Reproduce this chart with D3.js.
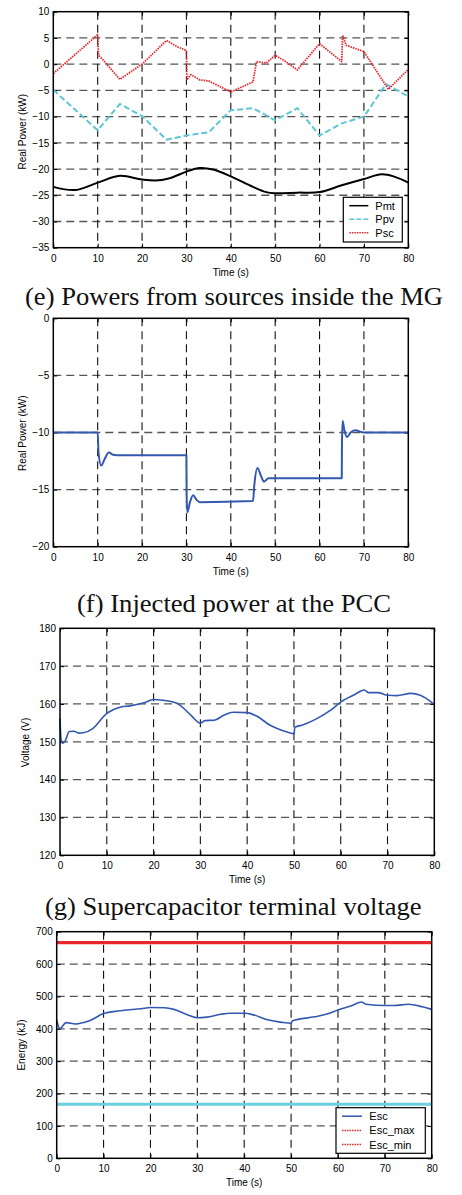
<!DOCTYPE html>
<html><head><meta charset="utf-8">
<script src="https://cdn.jsdelivr.net/npm/d3@7"></script>
<style>body{margin:0;background:#fff}svg{display:block}</style>
</head><body>
<svg id="c" width="462" height="1195"></svg>
<script>
// ---------- DATA ----------
const xTicks = [0,10,20,30,40,50,60,70,80];

// (e) powers
const pmtT = [0,5,10,15,20,23,26,30,33,36,40,45,48,50,55,60,65,70,74,77,80];
const pmtV = [-23.4,-24.0,-22.6,-21.3,-22.0,-22.2,-21.8,-20.5,-19.8,-20.1,-21.4,-23.4,-24.4,-24.6,-24.5,-24.4,-23.1,-21.9,-21.0,-21.5,-22.6];
const ppvT = [0,10,15,20,25.5,30,35,40,45,50,55,60,65,70,75,80];
const ppvV = [-4.9,-12.6,-7.6,-9.9,-14.4,-13.6,-13.0,-8.8,-8.4,-10.7,-8.4,-13.6,-11.3,-10.0,-3.8,-6.2];
const pscT = [0,10,10.2,11,15,20,25.5,28,30,30.1,31,33,35,40,45,45.8,48,50,52,55,60,65,65.2,66,70,75.5,80];
const pscV = [-1.8,5.6,1.7,1.0,-2.9,0.0,4.5,3.3,2.6,-3.0,-2.0,-3.0,-3.2,-5.3,-3.4,0.5,0.2,1.7,0.7,-1.1,3.9,0.5,5.5,3.6,2.4,-4.8,-1.0];
const yTicksE = [10,5,0,-5,-10,-15,-20,-25,-30,-35];

// (f) PCC
const pccT = [0,10,10.2,10.8,11.6,12.5,13.5,15,30,30.05,30.2,30.8,31.5,32.3,33,45,45.3,46,46.8,47.5,48.5,50,65,65.05,65.2,65.6,66.2,67,68,70,80];
const pccV = [-10,-10,-11.8,-12.9,-12.3,-11.75,-11.95,-12,-12,-15.5,-17.0,-16.1,-15.5,-15.9,-16.1,-16,-14.6,-13.1,-13.8,-14.3,-14.0,-14,-14,-11,-9.0,-9.8,-10.4,-10.0,-9.8,-10,-10];
const yTicksF = [0,-5,-10,-15,-20];

// (g) voltage
const vT = [0,0.2,0.6,1,2,3,4,5,7,10,13,15,18,20,22,25,28,30,31,33,35,37,40,42,45,48,50,50.2,52,55,58,60,63,65,66,68,70,72,75,77,80];
const vV = [156.2,151,149.6,150,152.7,152.8,152.3,152.4,153.5,157.5,159.2,159.5,160.3,161.2,161,160.2,157,154.9,155.6,155.7,157,157.8,157.7,156.8,154.3,152.8,152.1,153.8,154.5,156.2,158.5,160.5,162.5,163.7,163,163,162.3,162.2,162.8,162.3,159.9];
const yTicksG = [180,170,160,150,140,130,120];

// (h) energy
const eT = [0,0.3,0.7,2,4,5,7,10,13,15,18,20,23,25,28,30,32,35,37,40,42,45,48,50,50.3,55,58,60,63,65,66,70,72,75,78,80];
const eV = [428,410,401,419,415,417,425,447,455,458,462,466,465,460,443,434,436,445,448,448,443,428,420,417,425,437,447,458,472,483,476,472,472,476,468,460];
const escMax = 666;
const escMin = 167;
const yTicksH = [700,600,500,400,300,200,100,0];

const captions = ["(e) Powers from sources inside the MG","(f) Injected power at the PCC","(g) Supercapacitor terminal voltage"];

// ---------- DRAW ----------
const svg = d3.select("#c");
const SANS = "'Liberation Sans', Arial, sans-serif";
const SERIF = "'Liberation Serif', 'Times New Roman', serif";

function panel(cfg){
  const x = d3.scaleLinear().domain([0,80]).range([cfg.l,cfg.r]);
  const y = d3.scaleLinear().domain(cfg.yd).range([cfg.b,cfg.t]);
  const g = svg.append("g");
  // grid
  g.append("g").selectAll("line").data(cfg.yt.slice(1,-1)).join("line")
    .attr("y1",d=>y(d)).attr("y2",d=>y(d)).attr("x1",cfg.l).attr("x2",cfg.r)
    .attr("stroke","#555").attr("stroke-width",1.3).attr("stroke-dasharray","8,5");
  g.append("g").selectAll("line").data(xTicks.slice(1,-1)).join("line")
    .attr("x1",d=>x(d)).attr("x2",d=>x(d)).attr("y1",cfg.t).attr("y2",cfg.b)
    .attr("stroke","#111").attr("stroke-width",1.1).attr("stroke-dasharray","8,5");
  // axes with inward ticks
  const ax = d3.axisBottom(x).tickValues(xTicks).tickSize(-4).tickPadding(7).tickFormat(d3.format("d"));
  const ay = d3.axisLeft(y).tickValues(cfg.yt).tickSize(-4).tickPadding(4).tickFormat(d3.format("d"));
  const gx = g.append("g").attr("transform",`translate(0,${cfg.b})`).call(ax);
  const gy = g.append("g").attr("transform",`translate(${cfg.l},0)`).call(ay);
  const gx2 = g.append("g").attr("transform",`translate(0,${cfg.t})`).call(d3.axisTop(x).tickValues(xTicks).tickSize(-4).tickFormat(""));
  const gy2 = g.append("g").attr("transform",`translate(${cfg.r},0)`).call(d3.axisRight(y).tickValues(cfg.yt).tickSize(-4).tickFormat(""));
  [gx,gy,gx2,gy2].forEach(a=>{a.select(".domain").remove();a.selectAll("line").attr("stroke","#000");
    a.selectAll("text").attr("font-family",SANS).attr("font-size",10).attr("fill","#000");});
  // series
  cfg.series.forEach(s=>{
    const line = d3.line().x(d=>x(d[0])).y(d=>y(d[1])).curve(s.curve||d3.curveLinear);
    const pts = s.t.map((t,i)=>[t,s.v[i]]);
    g.append("path").attr("d",line(pts)).attr("fill","none").attr("stroke",s.c)
      .attr("stroke-width",s.w).attr("stroke-dasharray",s.dash||null).attr("stroke-linejoin","round");
  });
  // frame
  g.append("rect").attr("x",cfg.l).attr("y",cfg.t).attr("width",cfg.r-cfg.l).attr("height",cfg.b-cfg.t)
    .attr("fill","none").attr("stroke","#000").attr("stroke-width",1.5);
  // labels
  g.append("text").attr("x",(cfg.l+cfg.r)/2).attr("y",cfg.b+28).attr("text-anchor","middle")
    .attr("font-family",SANS).attr("font-size",10).text("Time (s)");
  g.append("text").attr("transform",`translate(${cfg.ylx},${cfg.yly}) rotate(-90)`).attr("text-anchor","middle")
    .attr("dominant-baseline","central").attr("font-family",SANS).attr("font-size",10).text(cfg.ylab);
  // legend
  if(cfg.legend){
    const L = cfg.legend;
    g.append("rect").attr("x",L.x).attr("y",L.y).attr("width",L.w).attr("height",L.h)
      .attr("fill","#fff").attr("stroke","#000").attr("stroke-width",1.2);
    L.items.forEach((it,i)=>{
      const yy = L.y + L.r0 + i*L.dy;
      g.append("line").attr("x1",L.x+6).attr("x2",L.x+6+L.sl).attr("y1",yy).attr("y2",yy)
        .attr("stroke",it.c).attr("stroke-width",it.w).attr("stroke-dasharray",it.dash||null);
      g.append("text").attr("x",L.x+L.tx).attr("y",yy).attr("dominant-baseline","central")
        .attr("font-family",SANS).attr("font-size",11).text(it.n);
    });
  }
  return {x,y,g};
}

const RED="#e8262b", CYAN="#5cc6d6", BLUE="#3358b0";
const smooth = d3.curveMonotoneX;

panel({l:53.3,r:408.3,t:11.7,b:247.7,yd:[-35,10],yt:yTicksE,ylab:"Real Power (kW)",ylx:22.7,yly:131.7,
  series:[
    {t:pmtT,v:pmtV,c:"#000",w:2,curve:d3.curveCatmullRom},
    {t:ppvT,v:ppvV,c:CYAN,w:2,dash:"6,3"},
    {t:pscT,v:pscV,c:RED,w:1.8,dash:"1.5,1"}
  ],
  legend:{x:343.3,y:197.3,w:59,h:44.7,r0:8.4,dy:13.5,sl:19,tx:32,items:[
    {n:"Pmt",c:"#000",w:1.5},{n:"Ppv",c:CYAN,w:1.5,dash:"5,2"},{n:"Psc",c:RED,w:1.5,dash:"1.5,1"}]}
});
panel({l:53.3,r:408.3,t:318.3,b:546.7,yd:[-20,0],yt:yTicksF,ylab:"Real Power (kW)",ylx:22.7,yly:433.3,
  series:[{t:pccT,v:pccV,c:BLUE,w:2,curve:smooth}]});
panel({l:60,r:434.3,t:628.3,b:855.3,yd:[120,180],yt:yTicksG,ylab:"Voltage (V)",ylx:25,yly:742.5,
  series:[{t:vT,v:vV,c:BLUE,w:1.6,curve:smooth}]});
panel({l:56.7,r:431.7,t:931.7,b:1158.3,yd:[0,700],yt:yTicksH,ylab:"Energy (kJ)",ylx:21.7,yly:1045,
  series:[
    {t:[0,80],v:[escMax,escMax],c:RED,w:3.2},
    {t:[0,80],v:[escMin,escMin],c:"#6ccfdc",w:3.2},
    {t:eT,v:eV,c:BLUE,w:1.6,curve:smooth}
  ],
  legend:{x:336,y:1107.7,w:89.3,h:45.6,r0:8.5,dy:14.2,sl:20,tx:33.3,items:[
    {n:"Esc",c:BLUE,w:1.5},{n:"Esc_max",c:RED,w:1.5,dash:"1.5,1"},{n:"Esc_min",c:RED,w:1.5,dash:"1.5,1"}]}
});

// captions
const capY = [305,611.5,915];
const capX = [234,234,233.3];
const capW = [418,314,376.7];
captions.forEach((c,i)=>{
  svg.append("text").attr("x",capX[i]).attr("y",capY[i]).attr("text-anchor","middle")
    .attr("font-family",SERIF).attr("font-size",25).attr("fill","#111")
    .attr("textLength",capW[i]).attr("lengthAdjust","spacingAndGlyphs").text(c);
});
</script>
</body></html>
